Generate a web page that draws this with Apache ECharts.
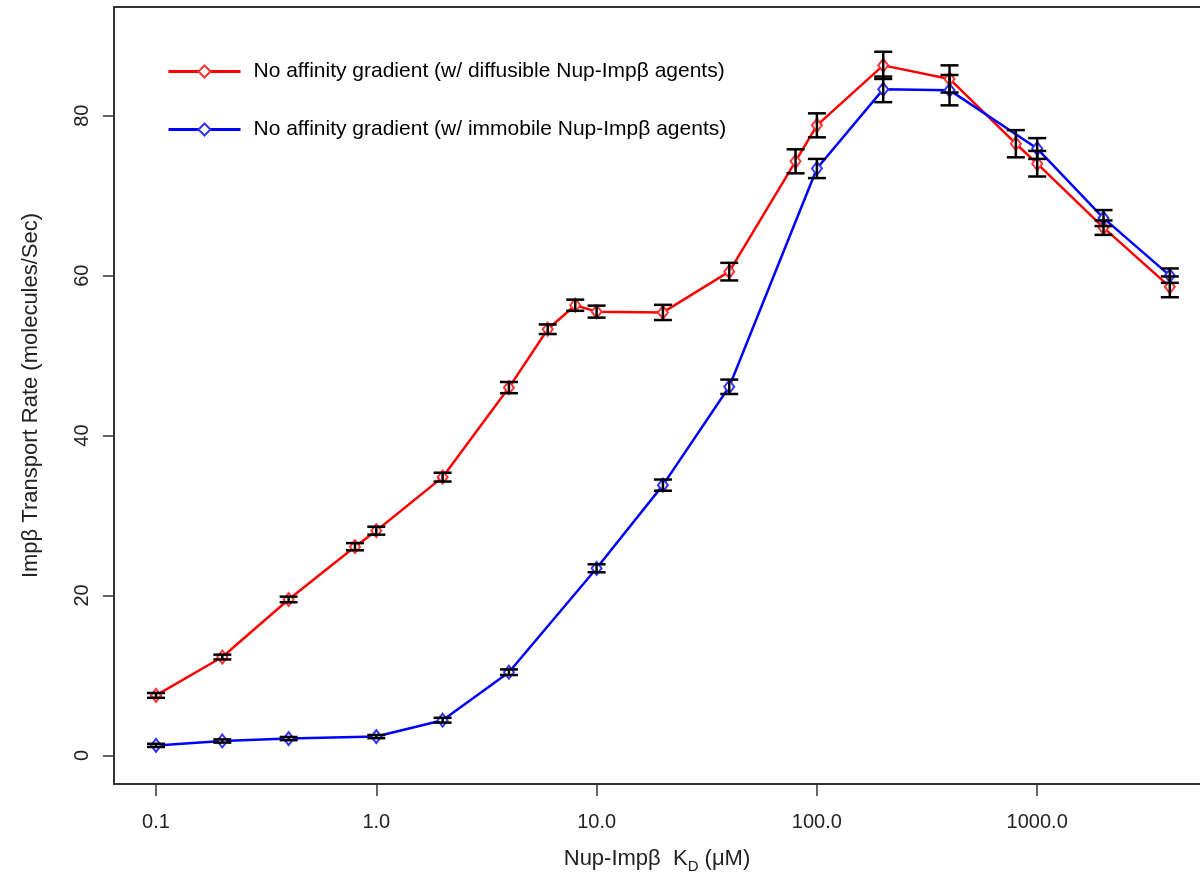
<!DOCTYPE html>
<html>
<head>
<meta charset="utf-8">
<script src="https://cdn.jsdelivr.net/npm/echarts@6/dist/echarts.min.js"></script>
<style>
html,body{margin:0;padding:0;background:#fff;}
#chart{width:1200px;height:879px;}
</style>
</head>
<body>
<div id="chart"></div>
<script>
// ---- data ----
const redX = [0.1, 0.2, 0.4, 0.8, 1, 2, 4, 6, 8, 10, 20, 40, 80, 100, 200, 400, 800, 1000, 2000, 4000];
const redY = [7.5, 12.3, 19.5, 26.1, 28.1, 34.8, 46.0, 53.3, 56.3, 55.5, 55.4, 60.5, 74.3, 78.8, 86.3, 84.6, 76.5, 74.0, 66.0, 58.6];
const redErr = [0.3, 0.3, 0.35, 0.45, 0.5, 0.55, 0.7, 0.6, 0.7, 0.75, 0.95, 1.1, 1.5, 1.5, 1.7, 1.7, 1.7, 1.6, 0.9, 1.3];

const blueX = [0.1, 0.2, 0.4, 1, 2, 4, 10, 20, 40, 100, 200, 400, 1000, 2000, 4000];
const blueY = [1.25, 1.8, 2.1, 2.35, 4.4, 10.4, 23.4, 33.8, 46.1, 73.4, 83.3, 83.2, 75.9, 67.2, 60.0];
const blueErr = [0.2, 0.2, 0.2, 0.2, 0.3, 0.35, 0.5, 0.7, 0.9, 1.2, 1.6, 1.9, 1.3, 1.0, 0.9];

const xTicks = [0.1, 1, 10, 100, 1000];
const yTicks = [0, 20, 40, 60, 80];

const redName = 'No affinity gradient (w/ diffusible Nup-Imp\u03B2 agents)';
const blueName = 'No affinity gradient (w/ immobile Nup-Imp\u03B2 agents)';

// ---- build ----
const FONT = '"Liberation Sans", Arial, Helvetica, sans-serif';
function pairs(xs, ys) { return xs.map((x, i) => [x, ys[i]]); }
function errData(xs, ys, es) { return xs.map((x, i) => [x, ys[i] - es[i], ys[i] + es[i]]); }

function errRender(params, api) {
  const x = api.value(0);
  const lo = api.coord([x, api.value(1)]);
  const hi = api.coord([x, api.value(2)]);
  const hw = 9;
  const style = { stroke: '#000', lineWidth: 2.5, fill: null };
  return {
    type: 'group',
    children: [
      { type: 'line', shape: { x1: lo[0], y1: lo[1], x2: hi[0], y2: hi[1] }, style },
      { type: 'line', shape: { x1: lo[0] - hw, y1: lo[1], x2: lo[0] + hw, y2: lo[1] }, style },
      { type: 'line', shape: { x1: hi[0] - hw, y1: hi[1], x2: hi[0] + hw, y2: hi[1] }, style }
    ]
  };
}

const chart = echarts.init(document.getElementById('chart'), null, { renderer: 'canvas' });
chart.setOption({
  animation: false,
  backgroundColor: '#fff',
  textStyle: { fontFamily: FONT },
  grid: {
    left: 114, top: 7, right: 0, height: 777,
    show: false
  },
  legend: {
    data: [redName, blueName],
    orient: 'vertical',
    left: 162, top: 56,
    itemWidth: 72, itemHeight: 15,
    itemGap: 37,
    itemStyle: { borderWidth: 2.5 },
    lineStyle: { width: 3 },
    textStyle: { fontSize: 21, color: '#000', fontFamily: FONT, padding: [0, 0, 0, 8] },
    selectedMode: false
  },
  xAxis: [{
    type: 'log',
    logBase: 10,
    min: 0.06447,
    max: 5483,
    position: 'bottom',
    axisLine: { show: true, onZero: false, lineStyle: { color: '#333', width: 2 } },
    axisTick: { show: true, inside: false, length: 12, lineStyle: { color: '#333', width: 1.5 }, customValues: xTicks },
    axisLabel: {
      show: true, fontSize: 20, color: '#222', margin: 28, fontFamily: FONT,
      customValues: xTicks,
      formatter: v => Number(v).toFixed(1)
    },
    minorTick: { show: false },
    splitLine: { show: false },
    name: '{a|Nup-Imp\u03B2  K}{s|D}{a| (\u03BCM)}',
    nameLocation: 'middle',
    nameGap: 60,
    nameTextStyle: {
      rich: {
        a: { fontSize: 22, color: '#222', fontFamily: FONT, lineHeight: 30, verticalAlign: 'middle' },
        s: { fontSize: 15, color: '#222', fontFamily: FONT, lineHeight: 15, verticalAlign: 'bottom' }
      }
    }
  }, {
    type: 'value',
    position: 'top',
    min: 0, max: 1,
    axisLine: { show: true, onZero: false, lineStyle: { color: '#333', width: 2 } },
    axisTick: { show: false },
    axisLabel: { show: false },
    splitLine: { show: false }
  }],
  yAxis: {
    type: 'value',
    min: -3.58,
    max: 93.6,
    axisLine: { show: true, onZero: false, lineStyle: { color: '#333', width: 2 } },
    axisTick: { show: true, inside: false, length: 11, lineStyle: { color: '#333', width: 1.5 }, customValues: yTicks },
    axisLabel: { show: true, fontSize: 20, color: '#222', rotate: 90, margin: 22, fontFamily: FONT, customValues: yTicks },
    splitLine: { show: false },
    name: 'Imp\u03B2 Transport Rate (molecules/Sec)',
    nameLocation: 'middle',
    nameGap: 72,
    nameTextStyle: { fontSize: 22, color: '#222', fontFamily: FONT }
  },
  series: [
    {
      name: redName, type: 'line', data: pairs(redX, redY),
      color: '#ff0000',
      lineStyle: { color: '#ff0000', width: 2.5 },
      symbol: 'emptyDiamond', symbolSize: [10, 13],
      itemStyle: { color: '#ff3333', borderWidth: 1 },
      z: 3
    },
    {
      name: blueName, type: 'line', data: pairs(blueX, blueY),
      color: '#0000ff',
      lineStyle: { color: '#0000ff', width: 2.5 },
      symbol: 'emptyDiamond', symbolSize: [10, 13],
      itemStyle: { color: '#3333ff', borderWidth: 1 },
      z: 3
    },
    {
      name: 'redErr', type: 'custom', data: errData(redX, redY, redErr),
      renderItem: errRender, encode: { x: 0, y: [1, 2] }, z: 4, silent: true
    },
    {
      name: 'blueErr', type: 'custom', data: errData(blueX, blueY, blueErr),
      renderItem: errRender, encode: { x: 0, y: [1, 2] }, z: 4, silent: true
    }
  ]
});
</script>
</body>
</html>
